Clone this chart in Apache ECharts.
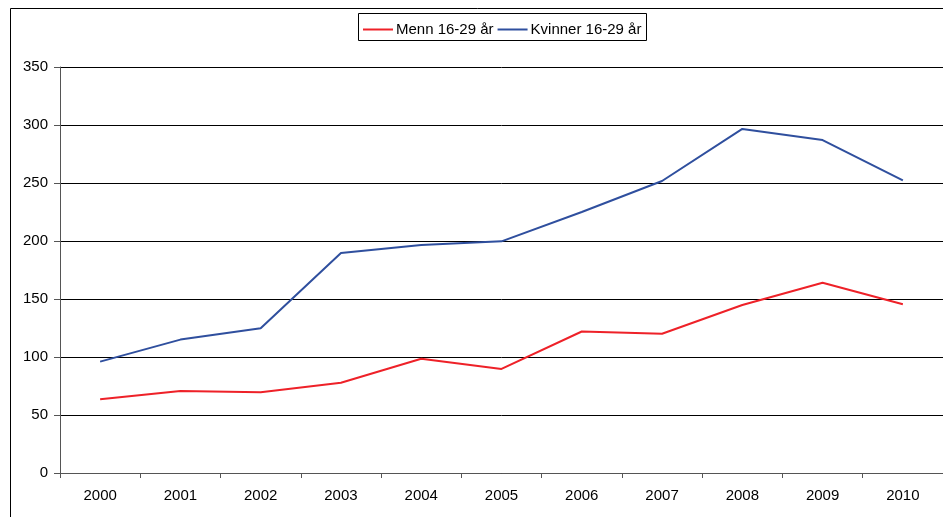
<!DOCTYPE html>
<html>
<head>
<meta charset="utf-8">
<script src="https://cdn.jsdelivr.net/npm/echarts@6/dist/echarts.min.js"></script>
<style>
html,body{margin:0;padding:0;background:#fff;}
#chart{width:943px;height:517px;}
</style>
</head>
<body>
<div id="chart"></div>
<script>
// Years on the category axis
const years = ['2000','2001','2002','2003','2004','2005','2006','2007','2008','2009','2010'];
// Series values
const menn = [63.5, 70.7, 69.6, 77.8, 98.5, 89.7, 122, 120, 144.8, 164, 145.4];
const kvinner = [96, 115, 124.7, 189.7, 196.5, 199.7, 225, 251.7, 296.6, 287, 252.3];
const seriesNames = ['Menn 16-29 år', 'Kvinner 16-29 år'];

const font = '"Liberation Sans", Arial, sans-serif';
const chart = echarts.init(document.getElementById('chart'));
chart.setOption({
  animation: false,
  backgroundColor: '#fff',
  graphic: [
    { type: 'rect', shape: { x: 10.5, y: 8.5, width: 960, height: 560 },
      style: { fill: 'none', stroke: '#000', lineWidth: 1 }, z: -1 },
    { type: 'rect', shape: { x: 358.5, y: 13.5, width: 288, height: 27 },
      style: { fill: '#fff', stroke: '#000', lineWidth: 1 }, z: 0 }
  ],
  legend: {
    top: 17,
    left: 358,
    itemWidth: 30,
    itemHeight: 2,
    itemGap: 4,
    icon: 'rect',
    textStyle: { fontFamily: font, fontSize: 15, color: '#000', padding: [0, 0, 0, -2] },
    data: seriesNames
  },
  grid: { left: 60, top: 67, width: 886, height: 406 },
  xAxis: {
    type: 'category',
    data: years,
    boundaryGap: true,
    axisLine: { lineStyle: { color: '#555', width: 1 } },
    axisTick: { show: true, length: 5, lineStyle: { color: '#555' } },
    axisLabel: { fontFamily: font, fontSize: 15, color: '#000', margin: 15 }
  },
  yAxis: {
    type: 'value',
    min: 0, max: 350, interval: 50,
    axisLine: { show: true, lineStyle: { color: '#555', width: 1 } },
    axisTick: { show: true, length: 6, lineStyle: { color: '#555' } },
    axisLabel: { fontFamily: font, fontSize: 15, color: '#000', margin: 12 },
    splitLine: { lineStyle: { color: '#000', width: 1 } }
  },
  series: [
    { name: seriesNames[0], type: 'line', data: menn, symbol: 'none',
      lineStyle: { color: '#ee2128', width: 2 }, itemStyle: { color: '#ee2128' } },
    { name: seriesNames[1], type: 'line', data: kvinner, symbol: 'none',
      lineStyle: { color: '#2f4f9e', width: 2 }, itemStyle: { color: '#2f4f9e' } }
  ]
});
</script>
</body>
</html>
